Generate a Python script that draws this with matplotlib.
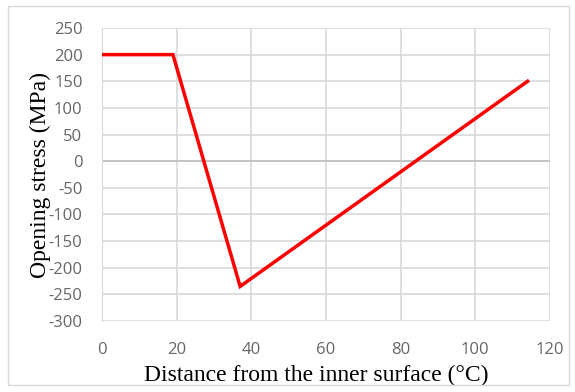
import matplotlib.pyplot as plt

plt.rcParams['axes.unicode_minus'] = False

# Opening stress profile through the wall
distance = [0, 19, 37, 114]
stress = [200, 200, -235, 150]

x_ticks = [0, 20, 40, 60, 80, 100, 120]
y_ticks = [250, 200, 150, 100, 50, 0, -50, -100, -150, -200, -250, -300]

fig = plt.figure(figsize=(5.75, 3.92), dpi=100)
ax = fig.add_axes([0.1774, 0.181, 0.7791, 0.7476])

ax.plot(distance, stress, color='#ff0000', linewidth=2.5, solid_joinstyle='miter', zorder=3)

ax.set_xlim(0, 120)
ax.set_ylim(-300, 250)
ax.set_xticks(x_ticks)
ax.set_yticks(y_ticks)
ax.grid(True, color='#d9d9d9', linewidth=1.2)
ax.axhline(0, color='#bfbfbf', linewidth=1.2, zorder=2)
ax.tick_params(length=0, labelsize=12, labelcolor='#666666')
ax.tick_params(axis='y', pad=14)
ax.tick_params(axis='x', pad=15)
for lbl in ax.get_xticklabels() + ax.get_yticklabels():
    lbl.set_fontfamily('Open Sans')
for side in ['top', 'right', 'bottom']:
    ax.spines[side].set_visible(False)
ax.spines['left'].set_color('#d9d9d9')

ax.set_xlabel('Distance from the inner surface (°C)', fontfamily='Liberation Serif',
              fontsize=17, labelpad=5)
ax.xaxis.label.set_x(0.478)
ax.set_ylabel('Opening stress (MPa)', fontfamily='Liberation Serif', fontsize=17, labelpad=-2)

# light frame round the chart area
fig.patches.append(plt.Rectangle((0.014, 0.018), 0.975, 0.967, transform=fig.transFigure,
                                 fill=False, edgecolor='#d9d9d9', linewidth=1))

fig.savefig('out.png', dpi=100)
